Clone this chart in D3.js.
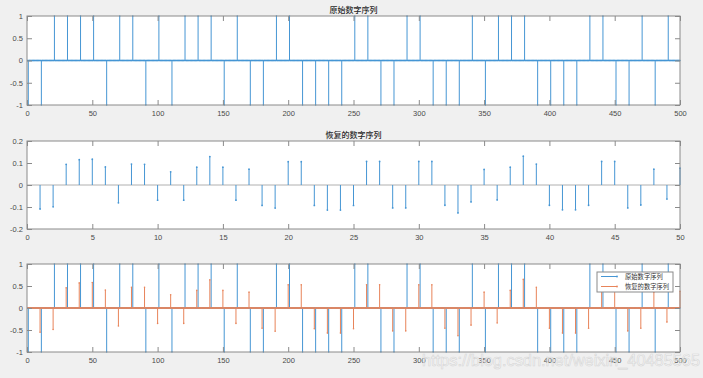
<!DOCTYPE html>
<html><head><meta charset="utf-8">
<script src="https://cdn.jsdelivr.net/npm/d3@7"></script>
<style>
html,body{margin:0;padding:0;background:#f0f0f0;}
svg{display:block;}
</style></head>
<body>
<svg id="c" width="703" height="378"></svg>
<script>
// ---- data ----
const titleTop = "原始数字序列";
const titleMid = "恢复的数字序列";
const legendLabels = ["原始数字序列", "恢复的数字序列"];
// original ±1 symbols (50), placed at sample 1, 11, 21, ... of a 500-sample sequence
const symbols = [-1,-1,1,1,1,1,-1,1,1,-1, 1,-1,1,1,1,-1,1,-1,-1,1, 1,-1,-1,-1,-1,1,1,-1,-1,1,
                 1,-1,-1,-1,1,-1,1,1,1,-1, -1,-1,-1,1,1,-1,-1,1,-1,1];
const symbolStart = 1, upFactor = 10, seqLength = 500;
// recovered sequence (50 samples)
const recovered = [-0.109,-0.099,0.094,0.115,0.117,0.082,-0.081,0.095,0.094,-0.069,
                   0.060,-0.069,0.081,0.129,0.081,-0.069,0.072,-0.093,-0.105,0.106,
                   0.106,-0.093,-0.114,-0.114,-0.093,0.107,0.107,-0.104,-0.104,0.107,
                   0.107,-0.092,-0.127,-0.077,0.071,-0.068,0.081,0.131,0.095,-0.092,
                   -0.113,-0.113,-0.092,0.107,0.107,-0.104,-0.091,0.072,-0.064,0.077];
// recovered sequence as shown in the bottom panel, placed at sample 10, 20, ..., 500
const recoveredBottom = [-0.55,-0.49,0.46,0.57,0.58,0.41,-0.41,0.47,0.47,-0.35,
                         0.30,-0.35,0.40,0.64,0.40,-0.35,0.36,-0.46,-0.53,0.53,
                         0.53,-0.47,-0.57,-0.57,-0.47,0.53,0.53,-0.52,-0.52,0.53,
                         0.53,-0.46,-0.63,-0.39,0.36,-0.34,0.40,0.65,0.47,-0.46,
                         -0.57,-0.57,-0.46,0.53,0.53,-0.52,-0.46,0.36,-0.32,0.38];
const recStart = 10;
const ticksLong = [0,50,100,150,200,250,300,350,400,450,500];
const ticksShort = [0,5,10,15,20,25,30,35,40,45,50];
const ticksPM1 = [-1,-0.5,0,0.5,1];
const ticksPM02 = [-0.2,-0.1,0,0.1,0.2];
const watermark = "https://blog.csdn.net/weixin_40485565";

// build 500-sample sequences
const origSeq = d3.range(1, seqLength + 1).map(i => {
  const k = (i - symbolStart) / upFactor;
  return {x: i, y: (Number.isInteger(k) && k >= 0 && k < symbols.length) ? symbols[k] : 0};
});
const recSeq = d3.range(1, seqLength + 1).map(i => {
  const k = (i - recStart) / upFactor;
  return {x: i, y: (Number.isInteger(k) && k >= 0 && k < recoveredBottom.length) ? recoveredBottom[k] : 0};
});
const midSeq = recovered.map((v, i) => ({x: i + 1, y: v}));

// ---- drawing ----
const svg = d3.select("#c");
const BLUE = "#4696d4", ORANGE = "#e8845a";
const AX = "#8a8a8a", LBL = "#4a4a4a";
const FONT = "Liberation Sans, Arial, sans-serif";
const CJK = "Noto Sans CJK SC, sans-serif";
const L = 27, R = 680;

function panel(yTop, yBot, xDom, yDom, xt, yt, fmtY) {
  const x = d3.scaleLinear().domain(xDom).range([L, R]);
  const y = d3.scaleLinear().domain(yDom).range([yBot, yTop]);
  const g = svg.append("g");
  g.append("rect").attr("x", L).attr("y", yTop).attr("width", R - L).attr("height", yBot - yTop)
    .attr("fill", "#fff");
  const plot = g.append("g");
  const ax = g.append("g");
  const styleAxis = s => {
    s.select(".domain").remove();
    s.selectAll("line").attr("stroke", AX);
    s.selectAll("text").attr("fill", LBL).attr("font-family", FONT).attr("font-size", "7.5px");
  };
  ax.append("g").attr("transform", `translate(0,${yBot})`)
    .call(d3.axisBottom(x).tickValues(xt).tickSizeInner(-5).tickSizeOuter(0).tickPadding(5.5).tickFormat(d3.format("d")))
    .call(styleAxis);
  ax.append("g").attr("transform", `translate(0,${yTop})`)
    .call(d3.axisTop(x).tickValues(xt).tickSizeInner(-5).tickSizeOuter(0).tickFormat(""))
    .call(styleAxis);
  ax.append("g").attr("transform", `translate(${L},0)`)
    .call(d3.axisLeft(y).tickValues(yt).tickSizeInner(-5).tickSizeOuter(0).tickPadding(4).tickFormat(fmtY))
    .call(styleAxis);
  ax.append("g").attr("transform", `translate(${R},0)`)
    .call(d3.axisRight(y).tickValues(yt).tickSizeInner(-5).tickSizeOuter(0).tickFormat(""))
    .call(styleAxis);
  ax.append("rect").attr("x", L).attr("y", yTop).attr("width", R - L).attr("height", yBot - yTop)
    .attr("fill", "none").attr("stroke", AX).attr("stroke-width", 1);
  return {x, y, plot};
}

function stems(p, data, color, baselineColor, dotR) {
  // baseline
  p.plot.append("line").attr("x1", L).attr("x2", R).attr("y1", p.y(0)).attr("y2", p.y(0))
    .attr("stroke", baselineColor).attr("stroke-width", baselineColor === "#b0b0b0" ? 1 : 1.6);
  const nz = data.filter(d => d.y !== 0);
  p.plot.append("g").selectAll("line").data(nz).join("line")
    .attr("x1", d => p.x(d.x)).attr("x2", d => p.x(d.x))
    .attr("y1", p.y(0)).attr("y2", d => p.y(d.y))
    .attr("stroke", color).attr("stroke-width", 1);
  p.plot.append("g").selectAll("circle").data(data).join("circle")
    .attr("cx", d => p.x(d.x)).attr("cy", d => p.y(d.y)).attr("r", dotR)
    .attr("fill", color);
}

const fmt1 = d => d === 0 ? "0" : String(d);

// top
const pTop = panel(16, 105, [0, 500], [-1, 1], ticksLong, ticksPM1, fmt1);
stems(pTop, origSeq, BLUE, BLUE, 0.7);
svg.append("text").attr("x", (L + R) / 2).attr("y", 13).attr("text-anchor", "middle")
  .attr("font-family", CJK).attr("font-size", "8px").attr("font-weight", "500").attr("fill", "#2a2a2a").text(titleTop);

// middle
const pMid = panel(141, 229, [0, 50], [-0.2, 0.2], ticksShort, ticksPM02, fmt1);
stems(pMid, midSeq, BLUE, "#b0b0b0", 0.9);
svg.append("text").attr("x", (L + R) / 2).attr("y", 138).attr("text-anchor", "middle")
  .attr("font-family", CJK).attr("font-size", "8px").attr("font-weight", "500").attr("fill", "#2a2a2a").text(titleMid);

// bottom
const pBot = panel(264, 352, [0, 500], [-1, 1], ticksLong, ticksPM1, fmt1);
stems(pBot, origSeq, BLUE, BLUE, 0.7);
stems(pBot, recSeq, ORANGE, ORANGE, 0.8);

// legend
const lg = svg.append("g");
lg.append("rect").attr("x", 597).attr("y", 272).attr("width", 76).attr("height", 20)
  .attr("fill", "#fff").attr("stroke", "#8a8a8a").attr("stroke-width", 1);
[[BLUE, 276.5], [ORANGE, 286.5]].forEach(([c, yy], i) => {
  lg.append("line").attr("x1", 601).attr("x2", 617).attr("y1", yy).attr("y2", yy).attr("stroke", c).attr("stroke-width", 1);
  lg.append("circle").attr("cx", 617).attr("cy", yy).attr("r", 0.9).attr("fill", c);
  lg.append("text").attr("x", 625).attr("y", yy + 2.3).attr("font-family", CJK).attr("font-size", "6.3px")
    .attr("fill", "#333").text(legendLabels[i]);
});

// watermark (overlays the bottom-right tick labels, as in the reference)
svg.append("text").attr("x", 422).attr("y", 366).attr("font-family", FONT).attr("font-size", "16px")
  .attr("textLength", 278).attr("lengthAdjust", "spacingAndGlyphs")
  .attr("fill", "#ffffff").attr("fill-opacity", 0.55).attr("stroke", "#c8c8c8").attr("stroke-width", 0.6)
  .attr("stroke-opacity", 0.7).text(watermark);
</script>
</body></html>
